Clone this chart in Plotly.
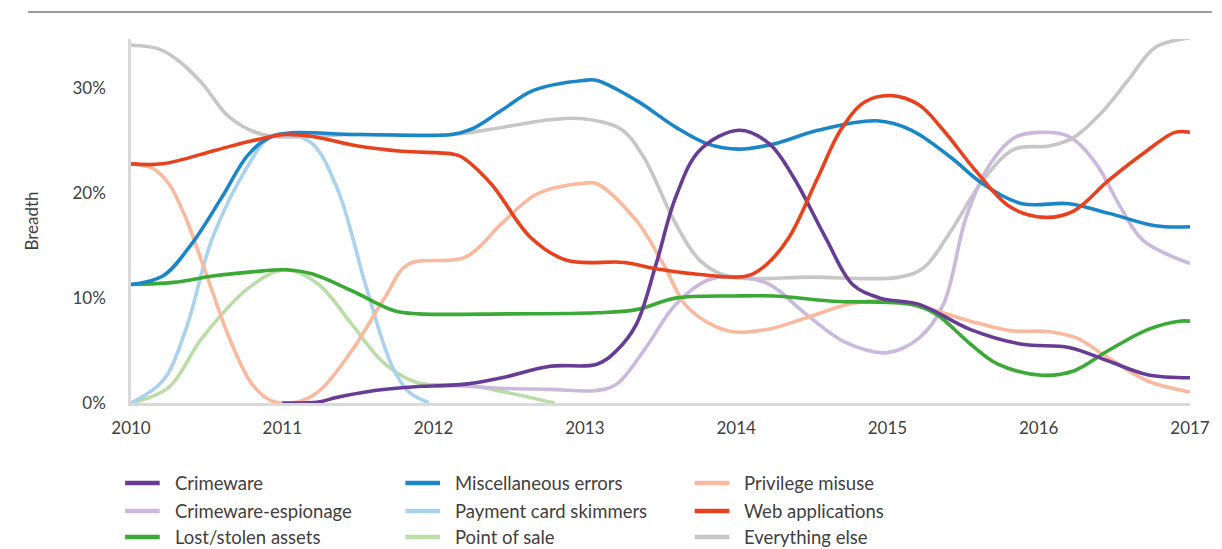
import plotly.graph_objects as go

# ---- data ----
crimeware_x = [2011.0, 2011.24, 2011.35, 2011.57, 2011.83, 2012.21, 2012.45, 2012.77, 2013.08, 2013.21, 2013.34, 2013.47, 2013.6, 2013.76, 2014.02, 2014.22, 2014.38, 2014.59, 2014.77, 2014.95, 2015.21, 2015.55, 2015.89, 2016.2, 2016.46, 2016.72, 2017.0]
crimeware_y = [0.0, 0.1, 0.5, 1.1, 1.5, 1.8, 2.4, 3.5, 3.7, 5.0, 7.5, 13.2, 19.6, 24.1, 26.0, 24.7, 21.5, 15.8, 11.3, 10.0, 9.4, 7.0, 5.6, 5.3, 4.0, 2.7, 2.4]

espionage_x = [2012.0, 2012.23, 2012.45, 2012.77, 2013.08, 2013.21, 2013.39, 2013.6, 2013.81, 2014.02, 2014.22, 2014.46, 2014.72, 2015.0, 2015.21, 2015.37, 2015.52, 2015.68, 2015.84, 2016.0, 2016.2, 2016.38, 2016.54, 2016.69, 2017.0]
espionage_y = [1.7, 1.6, 1.4, 1.3, 1.2, 1.8, 5.0, 9.4, 11.7, 12.0, 11.3, 8.5, 5.8, 4.8, 6.2, 9.4, 17.7, 22.8, 25.3, 25.8, 25.4, 22.8, 18.7, 15.5, 13.3]

lost_x = [2010.0, 2010.28, 2010.54, 2010.8, 2011.02, 2011.2, 2011.46, 2011.74, 2011.9, 2012.5, 2013.08, 2013.34, 2013.6, 2013.99, 2014.25, 2014.64, 2015.16, 2015.32, 2015.55, 2015.73, 2016.02, 2016.23, 2016.46, 2016.72, 2016.93, 2017.0]
lost_y = [11.3, 11.5, 12.1, 12.5, 12.7, 12.3, 10.7, 8.8, 8.5, 8.5, 8.6, 8.9, 10.0, 10.2, 10.2, 9.7, 9.4, 8.5, 5.6, 3.7, 2.65, 3.05, 5.0, 7.0, 7.8, 7.8]

misc_x = [2010.0, 2010.21, 2010.4, 2010.6, 2010.78, 2010.95, 2011.5, 2012.12, 2012.25, 2012.45, 2012.66, 2012.99, 2013.08, 2013.34, 2013.6, 2013.81, 2014.02, 2014.25, 2014.54, 2014.93, 2015.16, 2015.42, 2015.63, 2015.89, 2016.2, 2016.46, 2016.77, 2017.0]
misc_y = [11.3, 12.1, 15.15, 19.6, 23.75, 25.5, 25.6, 25.6, 26.1, 27.9, 29.8, 30.75, 30.75, 28.85, 26.3, 24.7, 24.2, 24.7, 26.0, 26.9, 26.0, 23.4, 20.9, 19.0, 19.0, 18.1, 16.9, 16.8]

skimmer_x = [2010.0, 2010.21, 2010.36, 2010.54, 2010.78, 2010.91, 2011.04, 2011.2, 2011.37, 2011.55, 2011.72, 2011.83, 2011.97]
skimmer_y = [0.0, 2.1, 6.9, 15.8, 22.8, 25.3, 25.6, 24.7, 20.2, 11.3, 3.7, 1.15, 0.0]

pos_x = [2010.0, 2010.25, 2010.47, 2010.78, 2011.02, 2011.24, 2011.46, 2011.68, 2011.9, 2012.23, 2012.45, 2012.8]
pos_y = [0.0, 1.5, 6.2, 11.0, 12.7, 11.3, 7.5, 3.7, 1.9, 1.7, 1.1, 0.0]

privilege_x = [2010.0, 2010.14, 2010.25, 2010.36, 2010.49, 2010.65, 2010.8, 2010.93, 2011.1, 2011.24, 2011.46, 2011.68, 2011.83, 2012.21, 2012.45, 2012.68, 2012.99, 2013.08, 2013.34, 2013.52, 2013.68, 2013.94, 2014.2, 2014.46, 2014.77, 2015.06, 2015.32, 2015.55, 2015.81, 2016.07, 2016.25, 2016.46, 2016.72, 2017.0]
privilege_y = [22.8, 22.4, 20.9, 17.7, 12.6, 6.2, 1.8, 0.2, 0.1, 1.1, 5.0, 10.1, 13.2, 13.9, 17.1, 19.9, 20.95, 20.9, 17.4, 13.2, 9.1, 6.9, 7.0, 8.1, 9.5, 9.7, 8.8, 7.8, 6.9, 6.8, 6.2, 4.3, 2.1, 1.05]

web_x = [2010.0, 2010.21, 2010.56, 2010.8, 2011.02, 2011.2, 2011.5, 2011.79, 2012.12, 2012.18, 2012.38, 2012.64, 2012.88, 2013.26, 2013.47, 2013.73, 2014.07, 2014.2, 2014.35, 2014.54, 2014.69, 2014.85, 2015.03, 2015.21, 2015.37, 2015.58, 2015.81, 2016.04, 2016.23, 2016.46, 2016.72, 2016.9, 2017.0]
web_y = [22.8, 22.8, 24.1, 25.0, 25.6, 25.4, 24.5, 24.0, 23.75, 23.5, 20.9, 15.8, 13.6, 13.4, 12.8, 12.3, 12.1, 13.2, 15.8, 21.5, 26.0, 28.7, 29.3, 28.4, 26.0, 22.2, 18.7, 17.7, 18.3, 21.2, 24.1, 25.8, 25.8]

other_x = [2010.0, 2010.21, 2010.45, 2010.65, 2010.87, 2011.5, 2012.12, 2012.34, 2012.77, 2012.99, 2013.24, 2013.39, 2013.6, 2013.76, 2013.94, 2014.5, 2015.08, 2015.24, 2015.42, 2015.63, 2015.84, 2016.07, 2016.23, 2016.41, 2016.59, 2016.77, 2017.0]
other_y = [34.1, 33.6, 30.8, 27.25, 25.6, 25.6, 25.6, 26.0, 27.0, 27.1, 26.1, 23.4, 17.1, 13.6, 12.1, 12.0, 12.0, 12.9, 16.4, 21.2, 24.2, 24.5, 25.3, 27.6, 30.75, 33.9, 34.8]

year_ticks = [2010, 2011, 2012, 2013, 2014, 2015, 2016, 2017]
pct_ticks = [0, 10, 20, 30]
pct_labels = ["0%", "10%", "20%", "30%"]

# name, x, y, colour, legend column, legend row ; listed in drawing order (bottom first)
series = [
    ("Everything else", other_x, other_y, "#c6c6c6", 3, 3),
    ("Point of sale", pos_x, pos_y, "#badca6", 2, 3),
    ("Payment card skimmers", skimmer_x, skimmer_y, "#a9d2ef", 2, 2),
    ("Crimeware-espionage", espionage_x, espionage_y, "#cbb8dd", 1, 2),
    ("Privilege misuse", privilege_x, privilege_y, "#f8b99f", 3, 1),
    ("Lost/stolen assets", lost_x, lost_y, "#3aa935", 1, 3),
    ("Miscellaneous errors", misc_x, misc_y, "#1a85c7", 2, 1),
    ("Crimeware", crimeware_x, crimeware_y, "#673c94", 1, 1),
    ("Web applications", web_x, web_y, "#e8411d", 3, 2),
]

FONT = "Lato, 'Open Sans', sans-serif"
TXT = "#404040"
W, H = 1222, 549
L, R, T, B = 131, 22, 39, 146
PW, PH = W - L - R, H - T - B


def px_x(px):   # page pixel -> paper x
    return (px - L) / PW


def px_y(py):   # page pixel -> paper y
    return (H - B - py) / PH


fig = go.Figure()
for name, xs, ys, col, lcol, lrow in series:
    fig.add_trace(go.Scatter(
        x=xs, y=ys, name=name, mode="lines",
        line=dict(color=col, width=3.6, shape="spline", smoothing=1.0),
        cliponaxis=False, showlegend=False,
    ))

# legend drawn as shapes + text in three columns
col_left = {1: 125, 2: 408, 3: 700}
row_mid = {1: 483, 2: 511, 3: 537}
for name, xs, ys, col, lcol, lrow in series:
    x0 = col_left[lcol]
    yc = row_mid[lrow]
    fig.add_shape(type="line", xref="paper", yref="paper",
                  x0=px_x(x0), x1=px_x(x0 + 35), y0=px_y(yc), y1=px_y(yc),
                  line=dict(color=col, width=4.5))
    fig.add_annotation(xref="paper", yref="paper", x=px_x(x0 + 48), y=px_y(yc),
                       xanchor="left", yanchor="middle", showarrow=False,
                       text=name, font=dict(size=18.5, color=TXT, family=FONT))

fig.update_layout(
    width=W, height=H,
    margin=dict(l=L, r=R, t=T, b=B),
    paper_bgcolor="white", plot_bgcolor="white",
    font=dict(family=FONT, color=TXT, size=17),
    showlegend=False,
    xaxis=dict(
        range=[2010, 2017], tickvals=year_ticks, ticktext=[str(t) for t in year_ticks],
        showgrid=False, zeroline=False, showline=True, linecolor="#d9d9d9", linewidth=2.5,
        ticks="", tickfont=dict(size=17, color=TXT), ticklabelstandoff=8,
    ),
    yaxis=dict(
        range=[0, 34.7], tickvals=pct_ticks, ticktext=pct_labels,
        showgrid=False, zeroline=False, showline=True, linecolor="#d9d9d9", linewidth=2.5,
        ticks="", tickfont=dict(size=17, color=TXT), ticklabelstandoff=19,
        title=dict(text="Breadth", font=dict(size=17, color=TXT), standoff=30),
    ),
)

# thin rule at the top of the figure
fig.add_shape(type="line", xref="paper", yref="paper",
              x0=px_x(27), x1=px_x(1222), y0=px_y(12), y1=px_y(12),
              line=dict(color="#7a7a7a", width=1.5))

fig.write_html("out.html", config={"displayModeBar": False},
               post_script="document.body.style.margin='0';document.body.style.overflow='hidden';")
